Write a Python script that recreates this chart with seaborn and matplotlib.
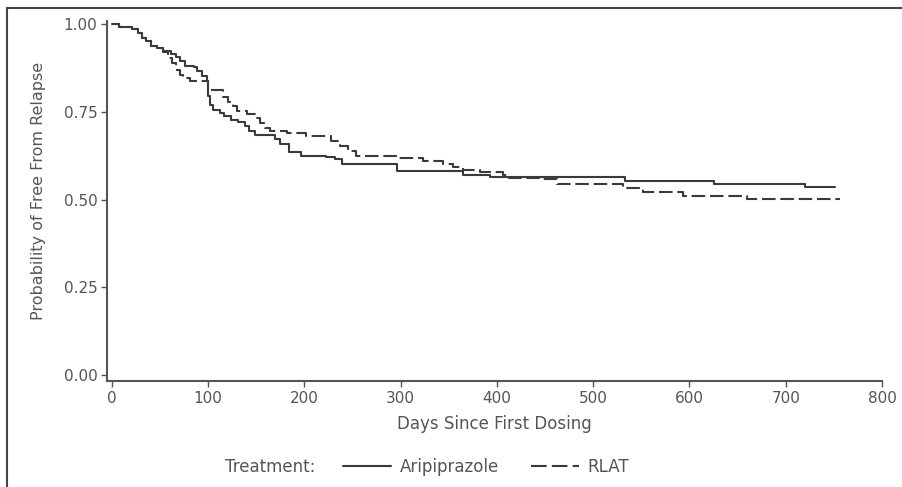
import pandas as pd
import matplotlib.pyplot as plt
import seaborn as sns
from matplotlib.lines import Line2D

# Kaplan-Meier steps (day of event, survival after it)
ari_days = [0, 8, 21, 27, 31, 36, 41, 47, 53, 62, 67, 71, 76, 85, 89, 94, 99, 100,
            102, 105, 112, 117, 124, 131, 138, 143, 149, 170, 175, 184, 197, 223,
            232, 239, 296, 365, 393, 533, 626, 720, 751]
ari_prob = [1.000, 0.992, 0.986, 0.974, 0.960, 0.952, 0.938, 0.932, 0.923, 0.914,
            0.907, 0.895, 0.881, 0.877, 0.866, 0.853, 0.838, 0.794, 0.770, 0.756,
            0.747, 0.737, 0.727, 0.720, 0.708, 0.694, 0.685, 0.672, 0.659, 0.634,
            0.625, 0.621, 0.614, 0.601, 0.580, 0.571, 0.564, 0.552, 0.544, 0.536,
            0.536]

rlat_days = [0, 8, 21, 27, 31, 36, 41, 47, 53, 58, 63, 67, 71, 74, 81, 100, 116,
             121, 126, 130, 140, 149, 154, 159, 164, 182, 202, 228, 237, 245, 254,
             296, 323, 344, 354, 365, 382, 406, 413, 445, 462, 531, 552, 593, 660,
             756]
rlat_prob = [1.000, 0.992, 0.986, 0.974, 0.960, 0.952, 0.938, 0.932, 0.920, 0.903,
             0.889, 0.869, 0.855, 0.846, 0.838, 0.811, 0.792, 0.779, 0.765, 0.751,
             0.744, 0.733, 0.718, 0.705, 0.694, 0.690, 0.681, 0.666, 0.653, 0.637,
             0.625, 0.617, 0.611, 0.602, 0.594, 0.583, 0.577, 0.571, 0.562, 0.557,
             0.545, 0.534, 0.521, 0.511, 0.502, 0.502]

x_ticks = [0, 100, 200, 300, 400, 500, 600, 700, 800]
y_ticks = [0.00, 0.25, 0.50, 0.75, 1.00]

df = pd.concat([
    pd.DataFrame({'days': ari_days, 'prob': ari_prob, 'Treatment': 'Aripiprazole'}),
    pd.DataFrame({'days': rlat_days, 'prob': rlat_prob, 'Treatment': 'RLAT'}),
])

sns.set_style('white')
plt.rcParams['font.family'] = ['DejaVu Sans']

line_col = '#3b3a39'
text_col = '#555555'
dash = (6.5, 2.3)

fig = plt.figure(figsize=(9.02, 4.87), dpi=100)
ax = fig.add_axes([107 / 902, 1 - 381 / 487, 775 / 902, 360 / 487])

sns.lineplot(data=df, x='days', y='prob', style='Treatment',
             dashes={'Aripiprazole': '', 'RLAT': dash},
             color=line_col, linewidth=1.5, estimator=None,
             drawstyle='steps-post', legend=False, ax=ax)

ax.set_xlim(-4.9, 800)
ax.set_ylim(-0.017, 1.0085)
ax.set_xticks(x_ticks)
ax.set_yticks(y_ticks)
ax.set_yticklabels([f'{v:.2f}' for v in y_ticks])
ax.set_xlabel('Days Since First Dosing', fontsize=12, color=text_col, labelpad=7)
ax.set_ylabel('Probability of Free From Relapse', fontsize=11.5, color=text_col)
ax.yaxis.set_label_coords(-0.0787, 0.528)
ax.tick_params(axis='both', direction='out', length=4, width=1, color=text_col,
               labelsize=11, labelcolor=text_col, pad=3)
ax.tick_params(axis='x', bottom=True)
ax.tick_params(axis='y', left=True)
for side in ['top', 'right']:
    ax.spines[side].set_visible(False)
for side in ['left', 'bottom']:
    ax.spines[side].set_color(text_col)
    ax.spines[side].set_linewidth(1.5)

# legend row at the bottom
fig.text(225 / 902, 1 - 467 / 487, 'Treatment:', fontsize=12, color=text_col, va='center')
handles = [Line2D([], [], color=line_col, lw=1.5),
           Line2D([], [], color=line_col, lw=1.5, dashes=(7.5, 2.5))]
fig.legend(handles, ['Aripiprazole', 'RLAT'], loc='center left',
           bbox_to_anchor=(343 / 902, 1 - 467 / 487), ncol=2, frameon=False,
           fontsize=12, labelcolor=text_col, handlelength=2.9, handletextpad=0.5,
           columnspacing=1.9, borderpad=0, borderaxespad=0)

# outer frame (top and left edges visible)
fig.add_artist(Line2D([7 / 902, 7 / 902], [0, 1 - 8 / 487], transform=fig.transFigure,
                      color='#444444', lw=1.5))
fig.add_artist(Line2D([7 / 902, 1], [1 - 8 / 487, 1 - 8 / 487], transform=fig.transFigure,
                      color='#444444', lw=1.5))

fig.savefig('out.png', dpi=100)
